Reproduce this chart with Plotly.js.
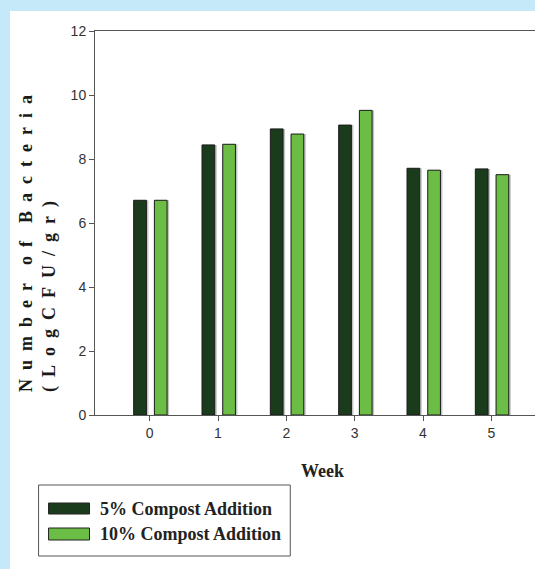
<!DOCTYPE html>
<html><head><meta charset="utf-8">
<script src="https://cdn.plot.ly/plotly-3.0.1.min.js"></script>
<style>
html,body{margin:0;padding:0;background:#c6e9f9;width:535px;height:569px;overflow:hidden}
#chart{position:absolute;left:10px;top:11px;width:525px;height:558px;background:#fff}
</style></head><body><div id="chart"></div>
<script>
const weeks = [0, 1, 2, 3, 4, 5];
const compost5 = [6.71, 8.44, 8.94, 9.06, 7.71, 7.69];
const compost10 = [6.71, 8.46, 8.78, 9.52, 7.65, 7.51];
const seriesNames = ['5% Compost Addition', '10% Compost Addition'];
const yTicks = [0, 2, 4, 6, 8, 10, 12];
const xTitle = 'Week';
const yTitleLines = ['Number of Bacteria', '(LogCFU/gr)'];

const colors = ['#1b3b1d', '#6bbd45'];
const W = 525, H = 558, L = 84.5, R = 0, T = 20, B = 154;
const PW = W - L - R, PH = H - T - B;
const px = x => (x - L) / PW;
const py = y => 1 - (y - T) / PH;

const NB = '\u00a0';
function spaced(s) {
  return s.split(' ').map(w => w.split('').join(NB + NB)).join(NB + NB + NB + NB);
}

const serif = 'Liberation Serif, Times New Roman, serif';
const sans = 'Liberation Sans, Arial, sans-serif';

const barW = 0.186, off5 = -0.234, off10 = 0.069, sh = 0.03;
const traces = [
  {type: 'bar', x: weeks, y: compost5, width: barW, offset: off5 + sh, hoverinfo: 'skip',
   marker: {color: '#c4c4c4', line: {width: 0}}},
  {type: 'bar', x: weeks, y: compost10, width: barW, offset: off10 + sh, hoverinfo: 'skip',
   marker: {color: '#c4c4c4', line: {width: 0}}},
  {type: 'bar', x: weeks, y: compost5, name: seriesNames[0], width: barW, offset: off5,
   marker: {color: colors[0], line: {color: '#1a1a1a', width: 1}}},
  {type: 'bar', x: weeks, y: compost10, name: seriesNames[1], width: barW, offset: off10,
   marker: {color: colors[1], line: {color: '#1a1a1a', width: 1}}}
];

const shapes = [
  {type: 'rect', xref: 'paper', yref: 'paper', x0: px(28), x1: px(280), y0: py(474), y1: py(545),
   line: {color: '#555', width: 1}, fillcolor: 'rgba(0,0,0,0)'},
  {type: 'rect', xref: 'paper', yref: 'paper', x0: px(38), x1: px(79), y0: py(492), y1: py(503),
   line: {color: '#222', width: 1}, fillcolor: colors[0]},
  {type: 'rect', xref: 'paper', yref: 'paper', x0: px(38), x1: px(79), y0: py(517), y1: py(529),
   line: {color: '#222', width: 1}, fillcolor: colors[1]}
];

const annotations = [
  {xref: 'paper', yref: 'paper', x: px(27), y: py(232.5), xanchor: 'center', yanchor: 'middle',
   text: spaced(yTitleLines[0]) + '<br>' + spaced(yTitleLines[1]), textangle: -90, align: 'left',
   showarrow: false, font: {family: serif, size: 18, color: '#1a1a1a', weight: 'bold'}},
  {xref: 'paper', yref: 'paper', x: px(312), y: py(460), xanchor: 'center', yanchor: 'middle',
   text: '<b>' + xTitle + '</b>', showarrow: false, font: {family: serif, size: 18, color: '#222'}},
  {xref: 'paper', yref: 'paper', x: px(88), y: py(498), xanchor: 'left', yanchor: 'middle',
   text: '<b>' + seriesNames[0] + '</b>', showarrow: false, font: {family: serif, size: 18, color: '#222'}},
  {xref: 'paper', yref: 'paper', x: px(88), y: py(523), xanchor: 'left', yanchor: 'middle',
   text: '<b>' + seriesNames[1] + '</b>', showarrow: false, font: {family: serif, size: 18, color: '#222'}}
];

const layout = {
  width: W, height: H,
  margin: {l: L, r: R, t: T, b: B, pad: 0},
  paper_bgcolor: '#ffffff', plot_bgcolor: '#ffffff',
  showlegend: false, barmode: 'overlay',
  xaxis: {range: [-0.80, 5.639], tickvals: weeks, ticktext: weeks.map(String), ticks: 'outside', ticklen: 5,
    tickcolor: '#555', showline: true, mirror: true, linecolor: '#555', linewidth: 1, showgrid: false,
    zeroline: false, tickfont: {family: sans, size: 14, color: '#333'}, fixedrange: true},
  yaxis: {range: [0, 12], tickvals: yTicks, ticktext: yTicks.map(String), ticks: 'outside', ticklen: 5,
    tickcolor: '#555', showline: true, linecolor: '#555', linewidth: 1, showgrid: false, zeroline: false,
    tickfont: {family: sans, size: 14, color: '#333'}, fixedrange: true},
  shapes: shapes,
  annotations: annotations
};

Plotly.newPlot('chart', traces, layout, {displayModeBar: false, staticPlot: true});
</script></body></html>
